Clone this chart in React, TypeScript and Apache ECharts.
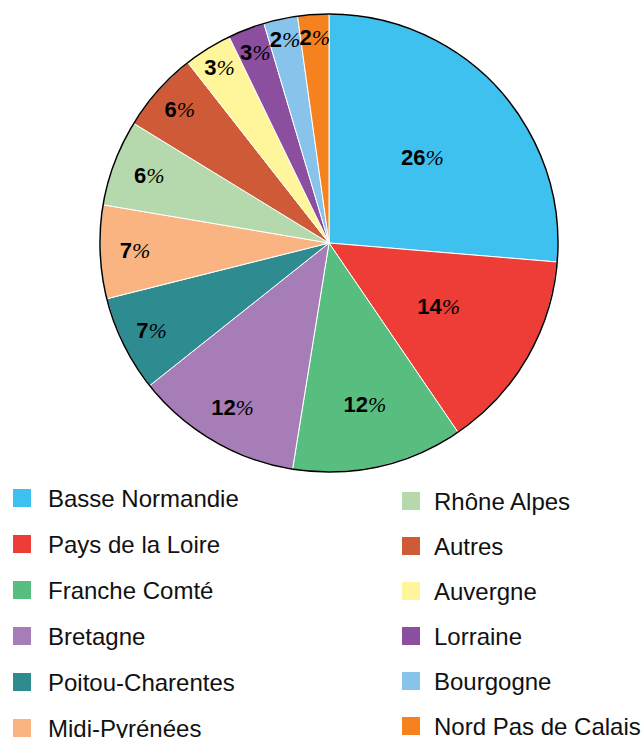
import React, { useEffect, useRef } from "react";
import * as echarts from "echarts";

const regions = [
  "Basse Normandie",
  "Pays de la Loire",
  "Franche Comté",
  "Bretagne",
  "Poitou-Charentes",
  "Midi-Pyrénées",
  "Rhône Alpes",
  "Autres",
  "Auvergne",
  "Lorraine",
  "Bourgogne",
  "Nord Pas de Calais",
];
const shares = [26.4, 14.2, 12.1, 11.8, 6.8, 6.6, 6.1, 5.7, 3.4, 2.6, 2.4, 2.2];
const colors = [
  "#3FC1EF",
  "#EE3D36",
  "#58BE80",
  "#A77DB8",
  "#2E8C90",
  "#F9B482",
  "#B5D8AC",
  "#CE5A37",
  "#FFF59B",
  "#8C4FA0",
  "#88C3EB",
  "#F5821F",
];

// styling: distance of each label from the pie centre (px)
const labelRadius = [127, 127, 165, 191, 198, 194, 192, 200, 207, 204, 208, 206];

export default function App() {
  const ref = useRef<HTMLDivElement>(null);
  useEffect(() => {
    if (!ref.current) return;
    const chart = echarts.init(ref.current, undefined, { renderer: "svg" });
    const cx = 329;
    const cy = 243;
    const R = 229;
    const total = shares.reduce((a, b) => a + b, 0);
    const cum: number[] = [];
    let acc = 0;
    shares.forEach((v) => {
      cum.push(acc + v / 2);
      acc += v;
    });
    const legendText = {
      fontFamily: "Liberation Sans, Arial, sans-serif",
      fontSize: 24,
      lineHeight: 24,
      color: "#111",
    };
    chart.setOption({
      animation: false,
      color: colors,
      legend: [
        {
          orient: "vertical",
          left: 11,
          top: 486,
          height: 300,
          padding: 0,
          itemWidth: 20,
          itemHeight: 20,
          itemGap: 22,
          icon: "rect",
          data: regions.slice(0, 6),
          textStyle: { ...legendText, padding: [0, 0, 0, 11] },
        },
        {
          orient: "vertical",
          left: 400,
          top: 489,
          height: 300,
          padding: 0,
          itemWidth: 20,
          itemHeight: 20,
          itemGap: 21,
          icon: "rect",
          data: regions.slice(6),
          textStyle: { ...legendText, padding: [0, 0, 0, 8] },
        },
      ],
      series: [
        {
          type: "pie",
          center: [cx, cy],
          radius: [0, R],
          startAngle: 90,
          clockwise: true,
          avoidLabelOverlap: false,
          itemStyle: { borderColor: "#fff", borderWidth: 1 },
          data: regions.map((name, i) => ({ name, value: shares[i] })),
          label: {
            show: true,
            position: "inside",
            formatter: (p: any) => `{n|${Math.round(p.value)}}{p|%}`,
            rich: {
              n: {
                fontFamily: "Liberation Sans, Arial, sans-serif",
                fontWeight: "bold",
                fontSize: 22,
                color: "#000",
              },
              p: {
                fontFamily: "Liberation Serif, serif",
                fontStyle: "italic",
                fontSize: 22,
                color: "#000",
              },
            },
          },
          labelLine: { show: false },
          labelLayout: (params: any) => {
            const i = params.dataIndex;
            const a = (cum[i] / total) * Math.PI * 2;
            const r = labelRadius[i];
            return { x: cx + r * Math.sin(a), y: cy - r * Math.cos(a) };
          },
          emphasis: { disabled: true },
        },
        {
          type: "pie",
          center: [cx, cy],
          radius: [0, R],
          silent: true,
          label: { show: false },
          labelLine: { show: false },
          itemStyle: { color: "none", borderColor: "#000", borderWidth: 1.5 },
          data: [{ name: "outline", value: 1 }],
          emphasis: { disabled: true },
        },
      ],
    });
    return () => chart.dispose();
  }, []);
  return (
    <div
      ref={ref}
      style={{ position: "fixed", left: 0, top: 0, width: 641, height: 738, background: "#fff" }}
    />
  );
}
